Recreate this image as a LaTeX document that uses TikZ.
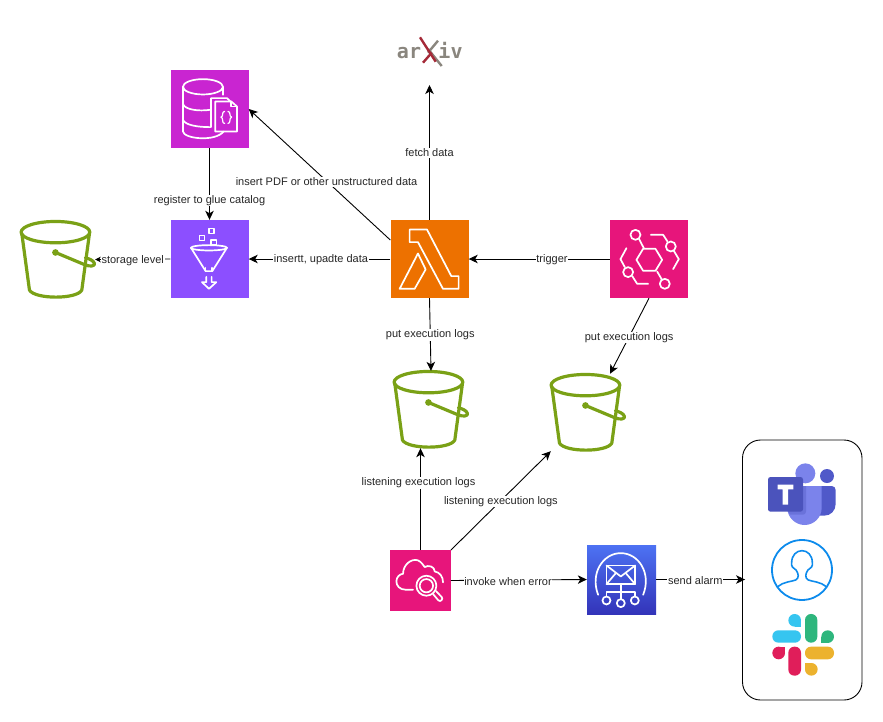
\documentclass[tikz,border=0pt]{standalone}
\usepackage{fontspec}
\setmainfont{Liberation Sans}
\newfontfamily\logofont{DejaVu Sans Mono}
\usepackage{xcolor}
\usetikzlibrary{arrows.meta}

\definecolor{gluepink}{HTML}{C925D1}
\definecolor{gluepurple}{HTML}{8C4FFF}
\definecolor{lambdaorange}{HTML}{ED7100}
\definecolor{awspink}{HTML}{E7157B}
\definecolor{snstop}{HTML}{4D72F3}
\definecolor{snsbottom}{HTML}{3334B9}
\definecolor{bucketgreen}{HTML}{7AA116}
\definecolor{logogrey}{HTML}{8A867E}
\definecolor{logored}{HTML}{A52A38}
\definecolor{teamsdark}{HTML}{4B53BC}
\definecolor{teamsmid}{HTML}{5059C9}
\definecolor{teamslight}{HTML}{7B83EB}
\definecolor{personblue}{HTML}{0D8BEC}
\definecolor{slackblue}{HTML}{36C5F0}
\definecolor{slackgreen}{HTML}{2EB67D}
\definecolor{slackyellow}{HTML}{ECB22E}
\definecolor{slackred}{HTML}{E01E5A}

\tikzset{
  iconbox/.style={minimum size=#1,inner sep=0pt},
  bucketbox/.style={minimum width=74pt,minimum height=77pt,inner sep=0pt},
  flow/.style={draw=black,line width=0.9pt,-{Stealth[length=9pt,width=8.5pt,inset=2.5pt]}},
  lbl/.style={fill=white,inner sep=0.6pt,yshift=-1pt,font=\fontsize{11}{13}\selectfont,text=black!85},
  % icons are typed in 3x pixels of their own box
  grid3x/.style 2 args={x=.3333pt,y=-.3333pt,shift={(-#1,-#2)}},
  iconline/.style={draw=white,line width=1.7pt,line join=round,line cap=round},
  pailline/.style={draw=bucketgreen,line width=3.2pt,line join=round,line cap=round},
  pail/.pic={
    \begin{scope}[grid3x={42}{32}]
    \draw[pailline] (146,66) ellipse [x radius=103,y radius=32];
    \draw[pailline] (45,70) -- (68,240) .. controls (85,268) and (210,268) .. (225,240) -- (248,70);
    \fill[bucketgreen] (146,127) circle (10);
    \draw[pailline] (146,127) -- (232,163) .. controls (250,171) and (265,168) .. (263,160) .. controls (261,151) and (245,145) .. (236,143);
    \end{scope}
  },
  dbicon/.pic={
    \begin{scope}[grid3x={15}{15}]
    \draw[iconline] (113,66) ellipse [x radius=60,y radius=23];
    \draw[iconline] (53,66) -- (53,200) .. controls (55,222) and (150,232) .. (175,200);
    \draw[iconline] (53,118) .. controls (60,135) and (100,140) .. (135,135);
    \draw[iconline] (53,165) .. controls (60,182) and (100,187) .. (135,187);
    \draw[iconline] (173,66) -- (173,90);
    \draw[iconline] (137,187) -- (137,100) -- (185,100) -- (195,110);
    \draw[iconline] (150,200) -- (150,110) -- (198,110) -- (215,125) -- (215,200) -- cycle;
    \draw[iconline] (198,110) -- (198,125) -- (215,125);
    \draw[iconline,line width=1.2pt] (178,140) .. controls (168,140) and (176,155) .. (167,157) .. controls (176,159) and (168,176) .. (178,176);
    \draw[iconline,line width=1.2pt] (188,140) .. controls (198,140) and (190,155) .. (199,157) .. controls (190,159) and (198,176) .. (188,176);
    \end{scope}
  },
  funnelicon/.pic={
    \begin{scope}[grid3x={62}{601}]
    \draw[iconline] (178,627) rectangle (193,642);
    \draw[iconline] (150,648) rectangle (165,663);
    \draw[iconline] (185,662) rectangle (201,677);
    \draw[iconline] (178,685) ellipse [x radius=54,y radius=8];
    \draw[iconline] (124,685) -- (168,755) -- (188,755) -- (232,685);
    \draw[iconline] (168,755) -- (168,745);
    \draw[iconline] (188,755) -- (188,745);
    \draw[iconline] (170,772) -- (170,788) -- (157,788) -- (178,808) -- (200,788) -- (186,788) -- (186,772);
    \end{scope}
  },
  lambdaicon/.pic={
    \begin{scope}[grid3x={722}{601}]
    \draw[iconline] (780,630) -- (832,630) -- (905,770) -- (927,770) -- (927,808) -- (880,808) -- (805,668) -- (780,668) -- cycle;
    \draw[iconline] (805,702) -- (828,750) -- (795,808) -- (750,808) -- cycle;
    \end{scope}
  },
  busicon/.pic={
    \begin{scope}[grid3x={30}{30}]
    \draw[iconline] (110,150) -- (130,117) -- (167,117) -- (187,150) -- (167,183) -- (130,183) -- cycle;
    \draw[iconline] (107,75) circle (15);
    \draw[iconline] (213,110) circle (15);
    \draw[iconline] (85,187) circle (15);
    \draw[iconline] (195,222) circle (15);
    \draw[iconline] (118,88) -- (132,115);
    \draw[iconline] (172,185) -- (186,209);
    \draw[iconline] (153,75) -- (190,75) -- (203,95);
    \draw[iconline] (222,123) -- (237,148) -- (220,178);
    \draw[iconline] (80,115) -- (62,148) -- (75,172);
    \draw[iconline] (98,200) -- (112,222) -- (145,222);
    \end{scope}
  },
  watchicon/.pic={
    \begin{scope}[grid3x={31}{61}]
    \draw[iconline] (100,180) -- (78,180) .. controls (60,180) and (50,168) .. (50,155) .. controls (50,142) and (60,133) .. (70,132) .. controls (70,105) and (95,85) .. (115,92) .. controls (125,97) and (130,105) .. (135,112) .. controls (145,105) and (165,110) .. (165,125) .. controls (180,128) and (190,140) .. (190,158);
    \draw[iconline] (140,168) circle (30);
    \draw[iconline] (140,168) circle (20);
    \draw[iconline] (160,193) -- (176,212) .. controls (182,218) and (192,208) .. (186,202) -- (169,184);
    \end{scope}
  },
  mailicon/.pic={
    \begin{scope}[grid3x={621}{45}]
    \draw[iconline] (655,195) .. controls (630,130) and (670,70) .. (723,70) .. controls (776,70) and (816,130) .. (790,195);
    \draw[iconline] (680,107) rectangle (766,163);
    \draw[iconline] (680,107) -- (723,140) -- (766,107);
    \draw[iconline] (680,163) -- (708,130);
    \draw[iconline] (766,163) -- (738,130);
    \draw[iconline] (723,163) -- (723,208);
    \draw[iconline] (680,200) -- (680,187) -- (765,187) -- (765,200);
    \draw[iconline] (680,212) circle (12);
    \draw[iconline] (723,220) circle (12);
    \draw[iconline] (765,212) circle (12);
    \end{scope}
  },
  teamsicon/.pic={
    \begin{scope}[grid3x={0}{0}]
    \fill[teamsmid] (291,138) circle (21);
    \fill[teamsmid] (255,168) -- (305,168) .. controls (312,168) and (317,173) .. (317,180) -- (317,222) .. controls (317,242) and (302,257) .. (283,257) -- (255,257) -- cycle;
    \fill[teamslight] (226,130) circle (30);
    \fill[teamslight] (172,168) -- (275,168) -- (275,234) .. controls (275,262) and (252,285) .. (224,285) .. controls (196,285) and (172,262) .. (172,234) -- cycle;
    \fill[teamsdark,opacity=.35] (172,168) -- (228,168) -- (228,245) .. controls (228,250) and (224,254) .. (219,254) -- (180,254) -- (172,240) -- cycle;
    \fill[teamsdark,rounded corners=2.5pt] (114,141) rectangle (219,245);
    \fill[white] (143,164) -- (190,164) -- (190,178) -- (174,178) -- (174,224) -- (158,224) -- (158,178) -- (143,178) -- cycle;
    \end{scope}
  },
  personicon/.pic={
    \begin{scope}[grid3x={0}{0}]
    \draw[personblue,line width=1.8pt] (216,420) circle (90);
    \draw[personblue,line width=1.6pt] (143,470) .. controls (160,455) and (185,455) .. (197,450) .. controls (208,445) and (206,430) .. (198,420) .. controls (190,415) and (183,410) .. (185,398) .. controls (185,375) and (200,362) .. (216,362) .. controls (232,362) and (247,375) .. (247,398) .. controls (249,410) and (242,415) .. (234,420) .. controls (226,430) and (224,445) .. (235,450) .. controls (247,455) and (272,455) .. (289,470);
    \end{scope}
  },
  slackicon/.pic={
    \begin{scope}[grid3x={0}{0}]
    \fill[slackblue,rounded corners=6pt] (127,601) rectangle (213,638);
    \fill[slackblue] (194,571) circle (19);
    \fill[slackblue] (194,571) rectangle (213,590);
    \fill[slackgreen,rounded corners=6pt] (225,552) rectangle (262,638);
    \fill[slackgreen] (293,620) circle (19);
    \fill[slackgreen] (274,620) rectangle (293,638);
    \fill[slackred,rounded corners=6pt] (175,650) rectangle (213,737);
    \fill[slackred] (146,669) circle (19);
    \fill[slackred] (146,650) rectangle (165,669);
    \fill[slackyellow,rounded corners=6pt] (225,650) rectangle (312,688);
    \fill[slackyellow] (244,718) circle (19);
    \fill[slackyellow] (225,699) rectangle (244,718);
    \end{scope}
  }
}

\begin{document}
\begin{tikzpicture}[x=1pt,y=-1pt]
\useasboundingbox (0,0) rectangle (883,721);

% service boxes
\node[iconbox=78pt,fill=gluepink] (catalog) at (209.5,109) {};
\node[iconbox=78pt,fill=gluepurple] (firehose) at (209.5,259) {};
\node[iconbox=78pt,fill=lambdaorange] (lambda) at (429.5,259) {};
\node[iconbox=78pt,fill=awspink] (eventbus) at (649,259) {};
\node[iconbox=60.5pt,fill=awspink] (watch) at (420.5,580.5) {};
\node[iconbox=69pt,top color=snstop,bottom color=snsbottom] (notify) at (621.5,579.5) {};
\pic at (catalog.north west) {dbicon};
\pic at (firehose.north west) {funnelicon};
\pic at (lambda.north west) {lambdaicon};
\pic at (eventbus.north west) {busicon};
\pic at (watch.north west) {watchicon};
\pic at (notify.north west) {mailicon};

% buckets
\node[bucketbox] (storage) at (58,259.5) {};
\node[bucketbox] (logsa) at (431,409.5) {};
\node[bucketbox] (logsb) at (588,412.5) {};
\pic at (storage.north west) {pail};
\pic at (logsa.north west) {pail};
\pic at (logsb.north west) {pail};

% arxiv logo
\node[inner sep=0pt,text=logogrey,font=\logofont\bfseries\fontsize{20}{20}\selectfont,anchor=base] (arxivleft) at (409,58.5) {ar};
\node[inner sep=0pt,text=logogrey,font=\logofont\bfseries\fontsize{20}{20}\selectfont,anchor=base] (arxivright) at (450.5,58.5) {iv};
\draw[logogrey,line width=2.4pt] (438,40.7) -- (428,52.7);
\draw[logogrey,line width=2.4pt] (428,49) -- (441.7,66);
\draw[logored,line width=2.4pt] (420,37.3) -- (435.7,61.7);
\draw[logored,line width=2.4pt] (423,62.7) -- (431.7,52.7);
\coordinate (arxivfoot) at (429.5,85);

% alarm targets
\node[minimum width=119.5pt,minimum height=260pt,inner sep=0pt,draw=black,line width=0.9pt,rounded corners=18pt] (targets) at (802.25,570) {};
\pic at (730,430) {teamsicon};
\pic at (730,430) {personicon};
\pic at (730,430) {slackicon};

% connectors
\draw[flow] (lambda.north) -- (arxivfoot) node[lbl,pos=.504] (fetchlbl) {fetch data};
\draw[flow] ([yshift=19pt]lambda.west) -- (catalog.east) node[lbl,pos=.45] (pdflbl) {insert PDF or other unstructured data};
\draw[flow] (catalog.south) -- (firehose.north) node[lbl,pos=.72] (gluelbl) {register to glue catalog};
\draw[flow] (lambda.west) -- (firehose.east) node[lbl,pos=.49] (upsertlbl) {insertt, upadte data};
\draw[draw=black,line width=0.9pt,-{Stealth[length=5.5pt,width=5.5pt,inset=1.5pt]}] (firehose.west) -- (storage.east) node[lbl,pos=.5] (levellbl) {storage level};
\draw[flow] (eventbus.west) -- (lambda.east) node[lbl,pos=.41] (triggerlbl) {trigger};
\draw[flow] (lambda.south) -- (logsa.north) node[lbl,pos=.49] (putalbl) {put execution logs};
\draw[flow] (eventbus.south) -- ([xshift=22pt]logsb.north) node[lbl,pos=.51] (putblbl) {put execution logs};
\draw[flow] (watch.north) -- (watch.north |- logsa.south) node[lbl,pos=.667,xshift=-2pt] (listenalbl) {listening execution logs};
\draw[flow] (watch.north east) -- (logsb.south west) node[lbl,pos=.5] (listenblbl) {listening execution logs};
\draw[flow] (watch.east) -- (notify.west) node[lbl,pos=.42] (invokelbl) {invoke when error};
\draw[flow] (notify.east) -- ([xshift=3pt]targets.west |- notify.east) node[lbl,pos=.44] (alarmlbl) {send alarm};
\end{tikzpicture}
\end{document}
